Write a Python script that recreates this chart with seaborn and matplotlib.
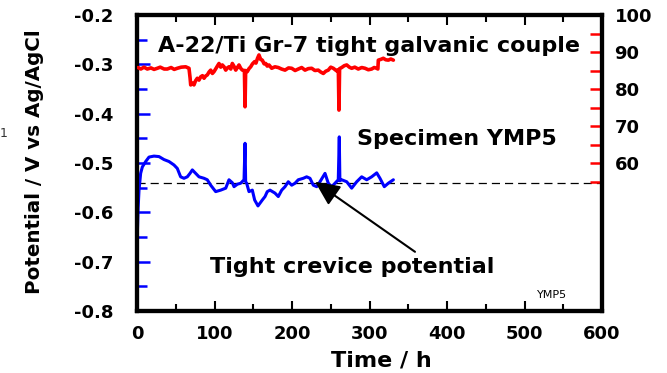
import matplotlib
matplotlib.use("Agg")
import matplotlib.pyplot as plt
from matplotlib.ticker import FixedLocator, FormatStrFormatter
import pandas as pd
import seaborn as sns

# A-22 side of the couple: potential (V vs Ag/AgCl) against time (h)
hours_a22 = [0.6, 1.5, 2.6, 4.7, 6.9, 11.2, 15.5, 21.9, 28.4, 34.8, 41.3, 47.7,
             52.0, 56.3, 60.6, 64.9, 68.4, 71.4, 75.7, 80.0, 86.5, 90.7, 95.1,
             101.5, 108.0, 114.5, 118.7, 123.0, 125.2, 129.5, 133.8, 138.1,
             139.4, 140.2, 141.5, 144.5, 148.8, 151.8, 156.1, 161.7, 165.2,
             168.1, 171.6, 178.0, 182.3, 186.7, 191.0, 195.2, 199.6, 203.9,
             208.1, 214.6, 218.9, 223.2, 227.5, 231.9, 236.1, 242.6, 246.8,
             251.2, 255.5, 259.7, 261.0, 261.8, 264.1, 270.6, 277.0, 283.5,
             289.9, 296.4, 302.8, 309.3, 313.5, 319.1, 324.3, 330.8]
potential_a22 = [-0.636, -0.590, -0.555, -0.521, -0.508, -0.497, -0.488, -0.486,
                 -0.487, -0.493, -0.497, -0.504, -0.511, -0.528, -0.531, -0.528,
                 -0.521, -0.514, -0.521, -0.528, -0.531, -0.534, -0.545, -0.558,
                 -0.555, -0.551, -0.534, -0.540, -0.548, -0.543, -0.541, -0.534,
                 -0.460, -0.538, -0.541, -0.558, -0.555, -0.575, -0.587, -0.575,
                 -0.568, -0.558, -0.555, -0.561, -0.568, -0.555, -0.548, -0.538,
                 -0.545, -0.541, -0.534, -0.531, -0.528, -0.531, -0.545, -0.548,
                 -0.538, -0.521, -0.541, -0.548, -0.541, -0.534, -0.447, -0.536,
                 -0.534, -0.538, -0.551, -0.538, -0.528, -0.534, -0.528, -0.520,
                 -0.531, -0.548, -0.541, -0.534]

# Ti Gr-7 side of the couple, read on the right-hand scale
hours_ti = [1.3, 5.0, 9.0, 13.3, 18.0, 22.0, 26.2, 30.0, 35.0, 39.1, 44.0,
            48.0, 52.0, 57.0, 62.8, 67.1, 68.5, 69.3, 71.5, 73.5, 75.5, 77.8,
            80.0, 82.2, 84.5, 86.5, 88.5, 90.7, 93.0, 95.1, 97.3, 99.4, 102.0,
            104.0, 105.8, 108.0, 110.1, 112.3, 114.5, 116.6, 118.7, 121.0,
            123.0, 125.0, 127.4, 129.5, 131.6, 133.8, 135.9, 138.6, 139.4,
            140.2, 142.3, 144.5, 146.7, 149.0, 151.8, 153.5, 155.5, 157.4,
            159.5, 161.7, 164.0, 166.1, 168.0, 170.3, 173.8, 178.0, 182.3,
            186.5, 191.0, 195.5, 199.6, 204.0, 208.1, 212.5, 216.8, 221.0,
            225.4, 229.5, 233.9, 237.0, 240.4, 243.5, 246.8, 250.0, 253.3,
            257.6, 259.8, 260.6, 261.4, 264.1, 267.5, 270.6, 274.0, 277.0,
            281.0, 285.5, 290.0, 294.2, 298.5, 302.8, 306.0, 309.3, 310.8,
            311.4, 314.5, 317.8, 321.0, 324.3, 327.5, 330.8]
values_ti = [85.8, 85.4, 85.9, 85.4, 85.7, 85.3, 85.6, 85.9, 85.4, 85.4, 85.8,
             85.3, 85.6, 85.9, 86.0, 85.6, 83.0, 81.1, 81.6, 81.1, 82.2, 82.9,
             82.4, 83.3, 83.6, 82.9, 83.5, 83.8, 84.6, 85.1, 84.2, 84.7, 85.6,
             86.3, 86.9, 85.9, 86.5, 86.0, 85.1, 85.7, 86.0, 85.4, 86.9, 86.2,
             85.1, 85.8, 86.5, 85.6, 85.1, 85.0, 75.2, 85.0, 84.7, 85.5, 86.0,
             86.8, 87.4, 87.0, 88.3, 89.2, 88.0, 87.8, 86.8, 86.9, 86.2, 86.5,
             85.6, 86.0, 85.8, 85.4, 85.1, 85.7, 85.6, 85.0, 85.4, 85.8, 85.1,
             85.5, 85.6, 85.0, 85.1, 84.6, 84.2, 84.8, 85.1, 85.9, 85.6, 84.9,
             85.2, 74.3, 85.5, 85.8, 86.3, 86.5, 85.9, 85.6, 85.9, 85.4, 85.8,
             85.6, 85.2, 85.4, 85.8, 85.6, 85.4, 87.8, 88.0, 88.3, 87.9, 87.8,
             88.1, 87.8]

crevice_potential = -0.54

x_ticks = [0, 100, 200, 300, 400, 500, 600]
left_ticks = [-0.8, -0.7, -0.6, -0.5, -0.4, -0.3, -0.2]
right_ticks = [60, 70, 80, 90, 100]

sns.set_theme(style="white")
plt.rcParams["font.family"] = ["DejaVu Sans"]
plt.rcParams["font.weight"] = "bold"
plt.rcParams["axes.unicode_minus"] = False
plt.rcParams["text.color"] = "black"
plt.rcParams["axes.labelcolor"] = "black"
plt.rcParams["xtick.color"] = "black"
plt.rcParams["ytick.color"] = "black"

W, H = 667, 373
fig = plt.figure(figsize=(W / 100, H / 100), dpi=100)
fig.patch.set_facecolor("white")
ax = fig.add_axes([137 / W, 1 - 311 / H, 465 / W, 296 / H])
ax2 = ax.twinx()

a22 = pd.DataFrame({"hours": hours_a22, "potential": potential_a22})
ti = pd.DataFrame({"hours": hours_ti, "value": values_ti})

ax.axhline(crevice_potential, color="black", lw=0.9, ls=(0, (6.5, 4)), zorder=1)
sns.lineplot(data=a22, x="hours", y="potential", ax=ax, color="#0000ff",
             lw=2.2, estimator=None, sort=False, zorder=3)
sns.lineplot(data=ti, x="hours", y="value", ax=ax2, color="#ff0000",
             lw=2.6, estimator=None, sort=False, zorder=3)

ax.set_xlim(0, 600)
ax.set_ylim(-0.8, -0.2)
ax2.set_ylim(20, 100)

ax.xaxis.set_major_locator(FixedLocator(x_ticks))
ax.xaxis.set_minor_locator(FixedLocator([t + 50 for t in x_ticks[:-1]]))
ax.yaxis.set_major_locator(FixedLocator(left_ticks))
ax.yaxis.set_minor_locator(FixedLocator([v + 0.05 for v in left_ticks[:-1]]))
ax.yaxis.set_major_formatter(FormatStrFormatter("%.1f"))
ax2.yaxis.set_major_locator(FixedLocator(right_ticks))
ax2.yaxis.set_minor_locator(FixedLocator([v - 5 for v in right_ticks]))

ax.tick_params(axis="x", which="major", direction="in", length=7, width=1.5,
               color="black", labelcolor="black", top=True, bottom=True,
               pad=10, labelsize=13)
ax.tick_params(axis="x", which="minor", direction="in", length=5, width=1.5,
               color="black", top=True, bottom=True)
ax.tick_params(axis="y", which="major", direction="in", length=9, width=1.8,
               color="#0000ff", labelcolor="black", left=True, right=False,
               pad=17, labelsize=13)
ax.tick_params(axis="y", which="minor", direction="in", length=7.5, width=1.8,
               color="#0000ff", left=True, right=False)
ax2.tick_params(axis="y", which="major", direction="in", length=9, width=1.8,
                color="#ff0000", labelcolor="black", right=True, left=False,
                pad=9, labelsize=13)
ax2.tick_params(axis="y", which="minor", direction="in", length=9, width=1.8,
                color="#ff0000", right=True, left=False)

for a in (ax, ax2):
    for s in a.spines.values():
        s.set_color("black")
        s.set_linewidth(3)

ax.set_xlabel("Time / h", fontsize=16, fontweight="bold", va="center",
              color="black")
ax.xaxis.set_label_coords((381 - 137) / 465, (311 - 360) / 296)
ax.set_ylabel("Potential / V vs Ag/AgCl", fontsize=14.3, fontweight="bold",
              va="center", color="black")
ax.yaxis.set_label_coords((35 - 137) / 465, (311 - 162) / 296)
ax2.set_ylabel("")

fig.text(158 / W, 1 - 52 / H, "A-22/Ti Gr-7 tight galvanic couple",
         fontsize=16, fontweight="bold", ha="left", va="baseline",
         color="black")
fig.text(357 / W, 1 - 145 / H, "Specimen YMP5",
         fontsize=16, fontweight="bold", ha="left", va="baseline",
         color="black")
fig.text(210 / W, 1 - 273 / H, "Tight crevice potential",
         fontsize=16, fontweight="bold", ha="left", va="baseline",
         color="black")
fig.text(537 / W, 1 - 298 / H, "YMP5", fontsize=8, fontweight="normal",
         ha="left", va="baseline", color="black")
fig.text(0 / W, 1 - 137 / H, "1", fontsize=9, fontweight="normal",
         color="#333333", ha="left", va="baseline")

ax.annotate("", xy=(229.7, -0.538), xytext=(358.7, -0.680),
            arrowprops=dict(arrowstyle="-|>,head_length=1.5,head_width=0.7",
                            mutation_scale=10, color="black", lw=1.5,
                            shrinkA=0, shrinkB=0), zorder=5)

fig.savefig("out.png", dpi=100, facecolor="white")
